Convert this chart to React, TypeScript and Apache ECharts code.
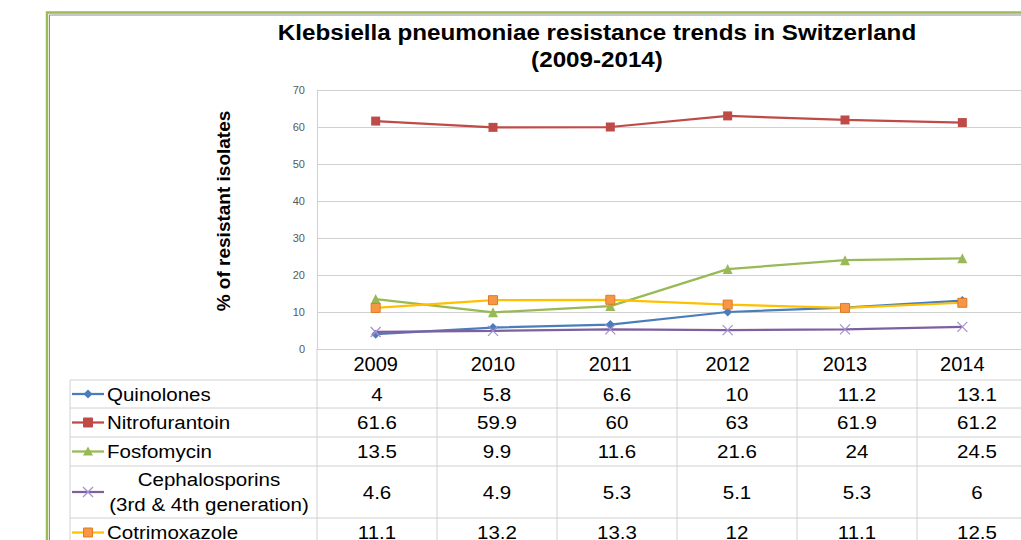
import React, { useEffect, useRef } from "react";
import * as echarts from "echarts";

const years = ["2009", "2010", "2011", "2012", "2013", "2014"];
const seriesNames = [
  "Quinolones",
  "Nitrofurantoin",
  "Fosfomycin",
  "Cephalosporins (3rd & 4th generation)",
  "Cotrimoxazole",
];
const tableLabels = [
  "Quinolones",
  "Nitrofurantoin",
  "Fosfomycin",
  "Cephalosporins\n(3rd & 4th generation)",
  "Cotrimoxazole",
];
const quinolones = [4, 5.8, 6.6, 10, 11.2, 13.1];
const nitrofurantoin = [61.6, 59.9, 60, 63, 61.9, 61.2];
const fosfomycin = [13.5, 9.9, 11.6, 21.6, 24, 24.5];
const cephalosporins = [4.6, 4.9, 5.3, 5.1, 5.3, 6];
const cotrimoxazole = [11.1, 13.2, 13.3, 12, 11.1, 12.5];
const allValues = [quinolones, nitrofurantoin, fosfomycin, cephalosporins, cotrimoxazole];

const lineColors = ["#4A7EBB", "#BE4B48", "#98B954", "#7D60A0", "#FFC000"];
const markerColors = ["#4A7EBB", "#BE4B48", "#98B954", "#A58FD0", "#F79646"];
const xPath = "path://M0,0L10,10M10,0L0,10";
const symbols = ["diamond", "rect", "triangle", xPath, "rect"];
const symbolSizes = [9, 9, 10, 10, 9];

const FONT = "'Liberation Sans', Arial, sans-serif";

// layout
const PLOT_LEFT = 317;
const PLOT_TOP = 90;
const BAND = 120;
const PLOT_W = BAND * years.length;
const PLOT_H = 259;
const rowLines = [380, 408, 437, 466, 518, 547];
const TABLE_LEFT = 70;
const GRID_COLOR = "#D0D0D0";
const SX = 1.08;

export default function App() {
  const ref = useRef<HTMLDivElement>(null);
  useEffect(() => {
    const chart = echarts.init(ref.current!, undefined, { renderer: "svg" });
    const graphics: any[] = [];

    // outer frame
    graphics.push({
      type: "rect",
      shape: { x: 47, y: 12.5, width: 1200, height: 700 },
      style: { fill: "none", stroke: "#9BBB59", lineWidth: 2.5 },
      z: 100,
    });
    graphics.push({
      type: "polyline",
      shape: { points: [[49.5, 700], [49.5, 15], [1100, 15]] },
      style: { fill: "none", stroke: "#8C8C8C", lineWidth: 1 },
      z: 100,
    });

    // title
    graphics.push({
      type: "text",
      x: 597,
      y: 46,
      scaleX: 1.1,
      style: {
        text: "Klebsiella pneumoniae resistance trends in Switzerland\n(2009-2014)",
        font: `bold 22px ${FONT}`,
        fill: "#000",
        textAlign: "center",
        textVerticalAlign: "middle",
        lineHeight: 27,
      },
    });

    // y axis name
    graphics.push({
      type: "text",
      x: 223,
      y: 211,
      rotation: Math.PI / 2,
      style: {
        text: "% of resistant isolates",
        font: `bold 19px ${FONT}`,
        fill: "#000",
        textAlign: "center",
        textVerticalAlign: "middle",
      },
    });

    // table lines
    for (let i = 0; i < rowLines.length; i++) {
      graphics.push({
        type: "line",
        shape: { x1: TABLE_LEFT, y1: rowLines[i], x2: PLOT_LEFT + PLOT_W, y2: rowLines[i] },
        style: { stroke: GRID_COLOR, lineWidth: 1 },
      });
    }
    graphics.push({
      type: "line",
      shape: { x1: TABLE_LEFT, y1: rowLines[0], x2: TABLE_LEFT, y2: 560 },
      style: { stroke: GRID_COLOR, lineWidth: 1 },
    });
    for (let k = 0; k <= years.length; k++) {
      const x = PLOT_LEFT + BAND * k;
      graphics.push({
        type: "line",
        shape: { x1: x, y1: PLOT_TOP + PLOT_H, x2: x, y2: 560 },
        style: { stroke: GRID_COLOR, lineWidth: 1 },
      });
    }

    // table rows
    for (let s = 0; s < seriesNames.length; s++) {
      const cy = (rowLines[s] + rowLines[s + 1]) / 2;
      graphics.push({
        type: "line",
        shape: { x1: 72, y1: cy, x2: 104, y2: cy },
        style: { stroke: lineColors[s], lineWidth: 2.25 },
      });
      const mx = 88;
      if (s === 0) {
        graphics.push({
          type: "polygon",
          shape: { points: [[mx, cy - 4.5], [mx + 4.5, cy], [mx, cy + 4.5], [mx - 4.5, cy]] },
          style: { fill: markerColors[s] },
        });
      } else if (s === 1 || s === 4) {
        graphics.push({
          type: "rect",
          shape: { x: mx - 4.5, y: cy - 4.5, width: 9, height: 9 },
          style: { fill: markerColors[s], stroke: s === 4 ? "#E07B1F" : markerColors[s], lineWidth: 1 },
        });
      } else if (s === 2) {
        graphics.push({
          type: "polygon",
          shape: { points: [[mx, cy - 5], [mx + 5, cy + 4], [mx - 5, cy + 4]] },
          style: { fill: markerColors[s] },
        });
      } else {
        graphics.push({
          type: "line",
          shape: { x1: mx - 5, y1: cy - 5, x2: mx + 5, y2: cy + 5 },
          style: { stroke: markerColors[s], lineWidth: 1.2 },
        });
        graphics.push({
          type: "line",
          shape: { x1: mx - 5, y1: cy + 5, x2: mx + 5, y2: cy - 5 },
          style: { stroke: markerColors[s], lineWidth: 1.2 },
        });
      }
      const multi = tableLabels[s].indexOf("\n") >= 0;
      graphics.push({
        type: "text",
        x: multi ? 209 : 107,
        y: cy,
        scaleX: SX,
        style: {
          text: tableLabels[s],
          font: `19px ${FONT}`,
          fill: "#000",
          textAlign: multi ? "center" : "left",
          textVerticalAlign: "middle",
          lineHeight: 25,
        },
      });
      for (let i = 0; i < years.length; i++) {
        graphics.push({
          type: "text",
          x: PLOT_LEFT + BAND * (i + 0.5),
          y: cy,
          scaleX: SX,
          style: {
            text: String(allValues[s][i]),
            font: `19px ${FONT}`,
            fill: "#000",
            textAlign: "center",
            textVerticalAlign: "middle",
          },
        });
      }
    }

    chart.setOption({
      animation: false,
      backgroundColor: "#fff",
      grid: { left: PLOT_LEFT, top: PLOT_TOP, width: PLOT_W, height: PLOT_H },
      xAxis: {
        type: "category",
        data: years,
        boundaryGap: true,
        axisLine: { show: true, lineStyle: { color: GRID_COLOR, width: 1 } },
        axisTick: { show: false },
        axisLabel: { fontSize: 20, fontFamily: FONT, color: "#000", margin: 5 },
      },
      yAxis: {
        type: "value",
        min: 0,
        max: 70,
        interval: 10,
        axisLine: { show: true, lineStyle: { color: GRID_COLOR, width: 1 } },
        axisTick: { show: false },
        axisLabel: { fontSize: 11, fontFamily: FONT, color: "#595959", margin: 12 },
        splitLine: { show: true, lineStyle: { color: GRID_COLOR, width: 1 } },
      },
      series: seriesNames.map((name, s) => ({
        name,
        type: "line",
        data: allValues[s],
        symbol: symbols[s],
        symbolSize: symbolSizes[s],
        showSymbol: true,
        lineStyle: { color: lineColors[s], width: 2.25 },
        itemStyle:
          s === 3
            ? { color: "none", borderColor: markerColors[s], borderWidth: 1.2 }
            : s === 4
            ? { color: markerColors[s], borderColor: "#E07B1F", borderWidth: 1 }
            : { color: markerColors[s], borderColor: markerColors[s], borderWidth: 0 },
        z: 2 + s,
      })),
      graphic: graphics,
    });
    return () => chart.dispose();
  }, []);
  return (
    <div
      ref={ref}
      style={{ position: "fixed", left: 0, top: 0, width: 1021, height: 540 }}
    />
  );
}
